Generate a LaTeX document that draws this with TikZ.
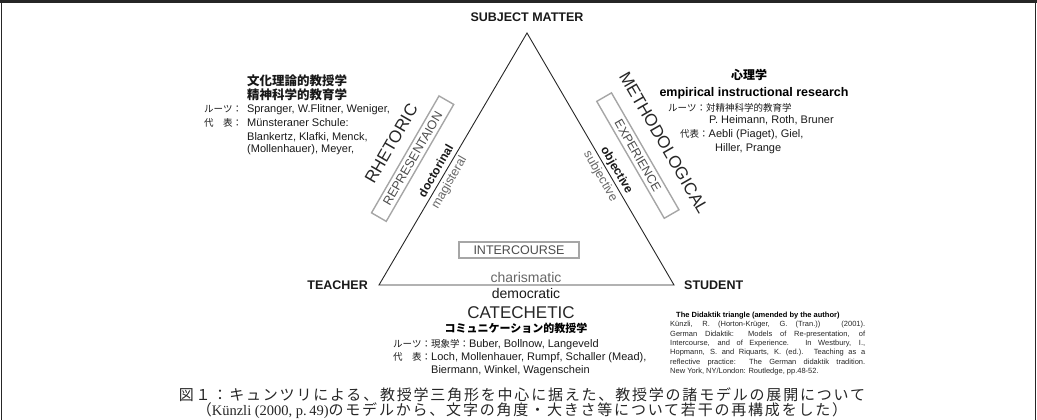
\documentclass[tikz,border=0pt]{standalone}
\usepackage{fontspec}
\setmainfont{Liberation Sans}
\newfontfamily\jp{Noto Sans CJK JP}
\newfontfamily\jpcap{Noto Sans CJK JP}[LetterSpace=12]
\newfontfamily\serifc{Liberation Serif}
\usetikzlibrary{calc}
\newcommand\jlab[1]{{\fontsize{9.5}{12}\selectfont\jp #1}}
\begin{document}
\begin{tikzpicture}[x=1pt,y=-1pt,
  lbl/.style={font=\fontsize{12.5}{15}\selectfont\bfseries, inner sep=0pt, text=black!90},
  big/.style={font=\fontsize{17}{19}\selectfont, inner sep=0pt, text=black!85},
  gbox/.style={draw=black!35, line width=1.4pt, text=black!70, font=\fontsize{12.5}{14}\selectfont, inner sep=0pt, minimum height=17pt, minimum width=135pt},
  ibox/.style={draw=black!35, line width=1.4pt, text=black!70, font=\fontsize{12.5}{14}\selectfont, inner sep=0pt, minimum height=16pt, minimum width=120pt},
  bsm/.style={font=\fontsize{12}{14}\selectfont\bfseries, inner sep=0pt, text=black!90},
  gsm/.style={font=\fontsize{12.5}{14}\selectfont, inner sep=0pt, text=black!60},
  jpb/.style={font=\fontsize{12.5}{15}\selectfont\jp\bfseries, inner sep=0pt, text=black!90},
  txt/.style={font=\fontsize{11}{13}\selectfont, inner sep=0pt, anchor=base west, text=black!90},
  tri/.style={line width=0.9pt, black!85},
  capt/.style={inner sep=0pt, text=black!85}
]
\useasboundingbox (0,0) rectangle (1037,420);
% frame
\draw[line width=3pt, black!85] (0,1.5) -- (1037,1.5);
\draw[line width=1.3pt, black!85] (1.5,0) -- (1.5,420);
\draw[line width=1.3pt, black!85] (1035.5,0) -- (1035.5,420);

% triangle
\coordinate (A) at (527,33);
\coordinate (B) at (379,285);
\coordinate (C) at (674,285);
\draw[tri] (A) -- (B) -- (C) -- cycle;

\node[lbl] (sm) at (527,17) {SUBJECT MATTER};
\node[lbl, anchor=east] (teacher) at (368,285) {TEACHER};
\node[lbl, anchor=west] (student) at (684,285) {STUDENT};

% side texts
\node[big, rotate=60] (rhet) at ($(B)!128pt!(A)!61pt!90:(A)$) {RHETORIC};
\node[big, rotate=-60] (meth) at ($(C)!128pt!(A)!63pt!-90:(A)$) {METHODOLOGICAL};
\node[gbox, rotate=60] (repr) at ($(B)!126pt!(A)!35pt!90:(A)$) {REPRESENTAION};
\node[gbox, rotate=-60] (expe) at ($(C)!130pt!(A)!34pt!-90:(A)$) {EXPERIENCE};
\node[bsm, rotate=60] (doc) at ($(B)!127pt!(A)!9pt!90:(A)$) {doctorinal};
\node[gsm, rotate=60] (mag) at ($(B)!124pt!(A)!-9pt!90:(A)$) {magisteral};
\node[bsm, rotate=-60] (obj) at ($(C)!128pt!(A)!8pt!-90:(A)$) {objective};
\node[gsm, rotate=-60] (subj) at ($(C)!131pt!(A)!-9pt!-90:(A)$) {subjective};

% bottom centre
\node[ibox] (inter) at (519,250) {INTERCOURSE};
\node[font=\fontsize{14}{16}\selectfont, inner sep=0pt, text=black!60] (char) at (526,277) {charismatic};
\node[font=\fontsize{14}{16}\selectfont, inner sep=0pt, text=black!90] (demo) at (526,293) {democratic};
\node[big] (cate) at (521,313) {CATECHETIC};
\node[font=\fontsize{11}{13}\selectfont\jp\bfseries, inner sep=0pt] (comm) at (516,328) {コミュニケーション的教授学};
\node[txt] (b1) at (393,347) {\jlab{ルーツ：現象学：}Buber, Bollnow, Langeveld};
\node[txt] (b2) at (393,360) {\jlab{\makebox[28.5pt][s]{代\hfill 表}：}Loch, Mollenhauer, Rumpf, Schaller (Mead),};
\node[txt] (b3) at (431,373) {Biermann, Winkel, Wagenschein};

% left block
\node[jpb] (l0) at (297,81) {文化理論的教授学};
\node[jpb] (l00) at (297,95) {精神科学的教育学};
\node[txt] (l1) at (204,113) {\jlab{ルーツ：}\hspace{5pt}Spranger, W.Flitner, Weniger,};
\node[txt] (l2) at (204,127) {\jlab{\makebox[28.5pt][s]{代\hfill 表}：}\hspace{5pt}Münsteraner Schule:};
\node[txt] (l3) at (247,140) {Blankertz, Klafki, Menck,};
\node[txt] (l4) at (247,153) {(Mollenhauer), Meyer,};

% right block
\node[font=\fontsize{12}{14}\selectfont\jp\bfseries, inner sep=0pt] (r0) at (749,75) {心理学};
\node[font=\fontsize{12.5}{14}\selectfont\bfseries, inner sep=0pt] (r00) at (754,93) {empirical instructional research};
\node[txt] (r1) at (668,111) {\jlab{ルーツ：対精神科学的教育学}};
\node[txt] (r2) at (709,124) {P. Heimann, Roth, Bruner};
\node[txt] (r3) at (680,137) {\jlab{代表：}Aebli (Piaget), Giel,};
\node[txt] (r4) at (715,151) {Hiller, Prange};

% citation
\node[font=\fontsize{7.5}{9.4}\selectfont\bfseries, inner sep=0pt, anchor=west] (cith) at (676,316) {The Didaktik triangle (amended by the author)};
\node[font=\fontsize{7.5}{9.4}\selectfont, inner sep=0pt, anchor=north west, align=left, text=black!85] (citb) at (670,321) {%
\makebox[195pt][s]{Künzli, R. (Horton-Krüger, G. (Tran.)) (2001).}\\
\makebox[195pt][s]{German Didaktik: Models of Re-presentation, of}\\
\makebox[195pt][s]{Intercourse, and of Experience. In Westbury, I.,}\\
\makebox[195pt][s]{Hopmann, S. and Riquarts, K. (ed.). Teaching as a}\\
\makebox[195pt][s]{reflective practice: The German didaktik tradition.}\\
New York, NY/London: Routledge, pp.48-52.};

% caption
\node[capt, font=\fontsize{15}{17}\selectfont\jpcap] (cap1) at (522,395) {図１：キュンツリによる、教授学三角形を中心に据えた、教授学の諸モデルの展開について};
\node[capt, font=\fontsize{15}{17}\selectfont] (cap2) at (522,411) {{\jpcap （}{\fontsize{14.5}{17}\selectfont\serifc Künzli (2000, p.\,49)}{\jpcap のモデルから、文字の角度・大きさ等について若干の再構成をした）}};
\end{tikzpicture}
\end{document}
